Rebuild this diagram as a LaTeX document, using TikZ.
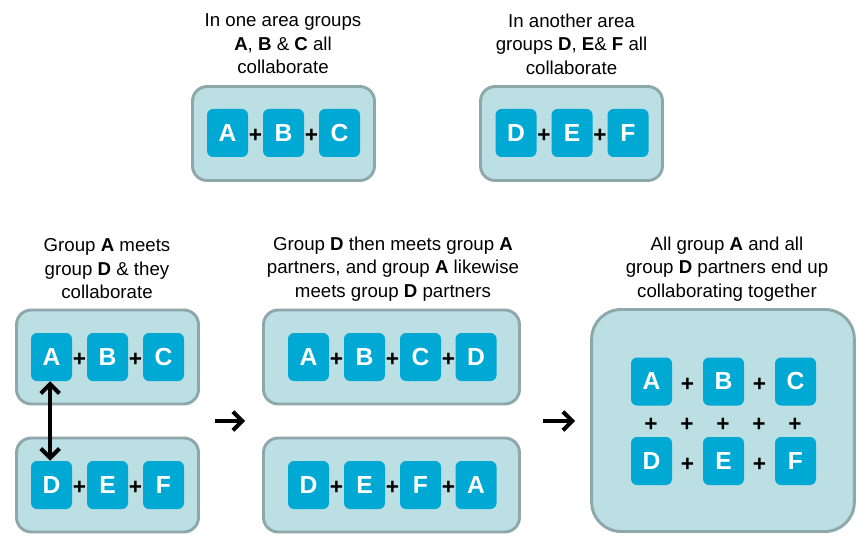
\documentclass[tikz,border=0pt]{standalone}
\usepackage{fontspec}
\setmainfont{Liberation Sans}
\usetikzlibrary{arrows.meta}
\definecolor{boxfill}{HTML}{BBDFE3}
\definecolor{boxline}{HTML}{8EA7AB}
\definecolor{tilefill}{HTML}{00A9D3}
\begin{document}
\begin{tikzpicture}[x=0.75pt, y=-0.75pt,
  group/.style={draw=boxline, fill=boxfill, line width=2.2pt, rounded corners=11pt, minimum width=136.5pt, minimum height=70.5pt},
  tile/.style={fill=tilefill, rounded corners=4.5pt, minimum width=30.75pt, minimum height=36pt, inner sep=0pt, text=white, font=\fontsize{18.5}{20}\selectfont\bfseries},
  plus/.style={inner sep=0pt, font=\fontsize{17}{17}\selectfont\bfseries},
  caption/.style={align=center, font=\fontsize{14}{17.6}\selectfont},
  link/.style={line width=3pt, -{Straight Barb[length=7pt,width=14pt]}}]
\useasboundingbox (0,0) rectangle (867,556);

% first area
\node[caption] (capABC) at (283,44) {In one area groups\\\textbf{A}, \textbf{B} \& \textbf{C} all\\collaborate};
\node[group] (areaABC) at (283.5,133.5) {};
\node[tile] (tA) at (227.5,133) {A};
\node[plus] (tp1) at (255.5,136) {+};
\node[tile] (tB) at (283.5,133) {B};
\node[plus] (tp2) at (311.5,136) {+};
\node[tile] (tC) at (339.5,133) {C};

% second area
\node[caption] (capDEF) at (571.5,44) {In another area\\groups \textbf{D}, \textbf{E}\& \textbf{F} all\\collaborate};
\node[group] (areaDEF) at (571.5,133.5) {};
\node[tile] (tD) at (516,133) {D};
\node[plus] (tp3) at (544,136) {+};
\node[tile] (tE) at (572,133) {E};
\node[plus] (tp4) at (600,136) {+};
\node[tile] (tF) at (628,133) {F};

% step 1: A meets D
\node[caption] (capMeet) at (107,269) {Group \textbf{A} meets\\group \textbf{D} \& they\\collaborate};
\node[group] (meetTop) at (107.5,357) {};
\node[group] (meetBot) at (107.5,485) {};
\node[tile] (mA) at (51.5,357) {A};
\node[plus] (mp1) at (79.5,360) {+};
\node[tile] (mB) at (107.5,357) {B};
\node[plus] (mp2) at (135.5,360) {+};
\node[tile] (mC) at (163.5,357) {C};
\node[tile] (mD) at (51.5,485) {D};
\node[plus] (mp3) at (79.5,488) {+};
\node[tile] (mE) at (107.5,485) {E};
\node[plus] (mp4) at (135.5,488) {+};
\node[tile] (mF) at (163.5,485) {F};
\draw[link, {Straight Barb[length=7pt,width=14pt]}-{Straight Barb[length=7pt,width=14pt]}] ([xshift=-1pt]mA.south) -- ([xshift=-1pt]mD.north);

% step 2: partners
\node[caption] (capPartner) at (393,269) {Group \textbf{D} then meets group \textbf{A}\\partners, and group \textbf{A} likewise\\meets group \textbf{D} partners};
\node[group, minimum width=192pt] (partTop) at (391.5,357) {};
\node[group, minimum width=192pt] (partBot) at (391.5,485) {};
\node[tile] (pA) at (308.5,357) {A};
\node[plus] (pp1) at (336.5,360) {+};
\node[tile] (pB) at (364.5,357) {B};
\node[plus] (pp2) at (392.5,360) {+};
\node[tile] (pC) at (420.5,357) {C};
\node[plus] (pp3) at (448.5,360) {+};
\node[tile] (pD) at (476,357) {D};
\node[tile] (qD) at (308.5,485) {D};
\node[plus] (qp1) at (336.5,488) {+};
\node[tile] (qE) at (364.5,485) {E};
\node[plus] (qp2) at (392.5,488) {+};
\node[tile] (qF) at (420.5,485) {F};
\node[plus] (qp3) at (448.5,488) {+};
\node[tile] (qA) at (476,485) {A};

% step 3: all together
\node[caption] (capAll) at (727,269) {All group \textbf{A} and all\\group \textbf{D} partners end up\\collaborating together};
\node[group, minimum width=197pt, minimum height=166.5pt, rounded corners=22pt] (allBox) at (723,420.5) {};
\node[tile] (aA) at (651.5,381.5) {A};
\node[plus] (ap1) at (687.5,385) {+};
\node[tile] (aB) at (723.5,381.5) {B};
\node[plus] (ap2) at (759.5,385) {+};
\node[tile] (aC) at (795.5,381.5) {C};
\node[plus] (ap3) at (651,425) {+};
\node[plus] (ap4) at (687,425) {+};
\node[plus] (ap5) at (723,425) {+};
\node[plus] (ap6) at (759,425) {+};
\node[plus] (ap7) at (795,425) {+};
\node[tile] (aD) at (651.5,461) {D};
\node[plus] (ap8) at (687.5,465) {+};
\node[tile] (aE) at (723.5,461) {E};
\node[plus] (ap9) at (759.5,465) {+};
\node[tile] (aF) at (795.5,461) {F};

% arrows between steps
\coordinate (go1) at (215,421);
\coordinate (to1) at (245,421);
\coordinate (go2) at (543,421);
\coordinate (to2) at (575,421);
\draw[link] (go1) -- (to1);
\draw[link] (go2) -- (to2);
\end{tikzpicture}
\end{document}
